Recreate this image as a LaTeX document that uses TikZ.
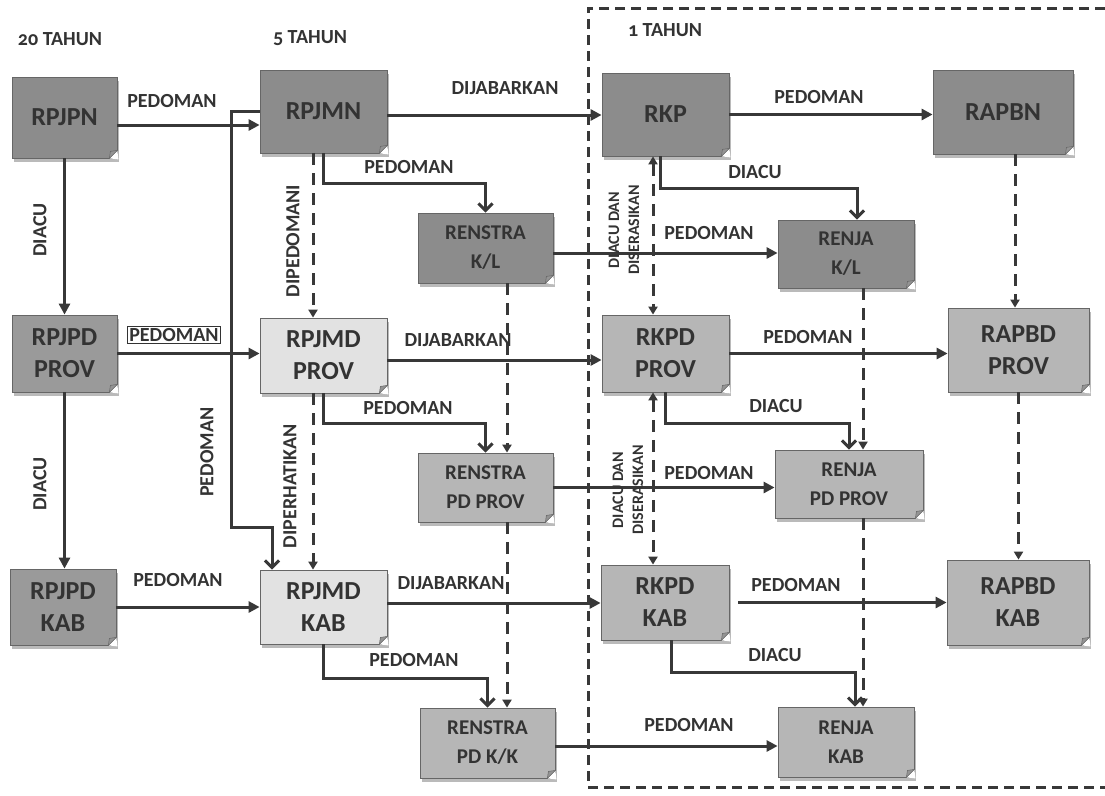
\documentclass[tikz,border=0pt]{standalone}
\usepackage{fontspec}
\setmainfont{Carlito}[Numbers=OldStyle]
\usetikzlibrary{arrows.meta,shadows}
\definecolor{tinta}{HTML}{333333}
\definecolor{garis}{HTML}{383838}
\definecolor{tepi}{HTML}{666666}
\definecolor{abugelap}{HTML}{8C8C8C}
\definecolor{abusedang}{HTML}{9A9A9A}
\definecolor{abumuda}{HTML}{B6B6B6}
\definecolor{abuterang}{HTML}{E2E2E2}

\begin{document}
\begin{tikzpicture}[x=1pt, y=-1pt,
    every node/.style={text=tinta, font=\bfseries\fontsize{20}{22}\selectfont},
    dok/.style={draw=tepi, line width=0.8pt, align=center, inner sep=2pt,
        font=\bfseries\fontsize{26}{32}\selectfont,
        drop shadow={shadow xshift=2pt, shadow yshift=-4pt, opacity=0.45, fill=black!60}},
    dokkecil/.style={dok, font=\bfseries\fontsize{21}{29}\selectfont},
    ukuran/.style 2 args={minimum width=#1pt, minimum height=#2pt},
    alir/.style={draw=garis, line width=3pt, -{Triangle[length=11pt, width=11pt]}},
    siku/.style={draw=garis, line width=3pt, -{Straight Barb[length=7pt, width=14pt]}},
    putus/.style={draw=garis, line width=3pt, dash pattern=on 12pt off 8pt,
        -{Triangle[length=8pt, width=9pt]}},
    putus2/.style={putus, {Triangle[length=8pt, width=9pt]}-{Triangle[length=8pt, width=9pt]}},
    kecil/.style={font=\bfseries\fontsize{16}{20}\selectfont}]
    \useasboundingbox (0,0) rectangle (1105,795);

    % bingkai 1 tahun
    \draw[garis, line width=3pt, dash pattern=on 10pt off 6pt] (1105,8) -- (588,8) -- (588,787) -- (1105,787);

    \node (t20) at (60,39) {20 TAHUN};
    \node (t5) at (310,38) {5 TAHUN};
    \node (t1) at (665,30) {1 TAHUN};

    % dokumen
    \node[dok, fill=abugelap, ukuran={105}{81}] (rpjpn) at (64.5,117.5) {RPJPN};
    \node[dok, fill=abusedang, ukuran={105}{77}] (rpjpdprov) at (64.5,353.5) {RPJPD\\PROV};
    \node[dok, fill=abusedang, ukuran={106}{76}] (rpjpdkab) at (63,607) {RPJPD\\KAB};
    \node[dok, fill=abugelap, ukuran={127}{83}] (rpjmn) at (323.5,111.5) {RPJMN};
    \node[dok, fill=abuterang, ukuran={127}{75}] (rpjmdprov) at (323.5,355.5) {RPJMD\\PROV};
    \node[dok, fill=abuterang, ukuran={127}{74}] (rpjmdkab) at (323.5,607) {RPJMD\\KAB};
    \node[dokkecil, fill=abugelap, ukuran={135}{70}] (renstrakl) at (485.5,248) {RENSTRA\\K/L};
    \node[dokkecil, fill=abumuda, ukuran={135}{69}] (renstraprov) at (485.5,487.5) {RENSTRA\\PD PROV};
    \node[dokkecil, fill=abumuda, ukuran={135}{70}] (renstrakab) at (487.5,743) {RENSTRA\\PD K/K};
    \node[dok, fill=abugelap, ukuran={127}{83}] (rkp) at (665.5,114.5) {RKP};
    \node[dok, fill=abumuda, ukuran={127}{77}] (rkpdprov) at (665.5,353.5) {RKPD\\PROV};
    \node[dok, fill=abumuda, ukuran={128}{75}] (rkpdkab) at (665,602.5) {RKPD\\KAB};
    \node[dokkecil, fill=abugelap, ukuran={136}{68}] (renjakl) at (846,254) {RENJA\\K/L};
    \node[dokkecil, fill=abumuda, ukuran={148}{68}] (renjaprov) at (849,484) {RENJA\\PD PROV};
    \node[dokkecil, fill=abumuda, ukuran={136}{70}] (renjakab) at (846,742) {RENJA\\KAB};
    \node[dok, fill=abugelap, ukuran={140}{84}] (rapbn) at (1003,112) {RAPBN};
    \node[dok, fill=abumuda, ukuran={141}{84}] (rapbdprov) at (1018.5,350) {RAPBD\\PROV};
    \node[dok, fill=abumuda, ukuran={142}{85}] (rapbdkab) at (1018,602.5) {RAPBD\\KAB};

    % lipatan sudut
    \foreach \n in {rpjpn,rpjpdprov,rpjpdkab,rpjmn,rpjmdprov,rpjmdkab,renstrakl,renstraprov,renstrakab,
                    rkp,rkpdprov,rkpdkab,renjakl,renjaprov,renjakab,rapbn,rapbdprov,rapbdkab}{
        \fill[white] ([xshift=-8pt]\n.south east) -- ([xshift=1pt, yshift=-1pt]\n.south east)
            -- ([yshift=8pt]\n.south east) -- cycle;
        \filldraw[fill=tepi!70, draw=tepi, line width=0.5pt] ([xshift=-8pt]\n.south east)
            -- ([yshift=8pt]\n.south east) -- ([xshift=-7pt, yshift=7pt]\n.south east) -- cycle;
    }

    % 20 tahun
    \draw[alir] ([yshift=-7.5pt]rpjpn.east) -- ([yshift=-7.5pt]rpjpn.east -| rpjmn.west);
    \draw[alir] (rpjpn.south) -- (rpjpdprov.north);
    \draw[alir] (rpjpdprov.south) -- (rpjpdprov.south |- rpjpdkab.north);
    \draw[alir] (rpjpdprov.east) -- (rpjpdprov.east -| rpjmdprov.west);
    \draw[alir] (rpjpdkab.east) -- (rpjpdkab.east -| rpjmdkab.west);
    \draw[siku] (rpjmn.west) -- ++(-28,0) -- ++(0,415.5) -| ([xshift=-51.5pt]rpjmdkab.north);

    % 5 tahun
    \draw[putus] ([xshift=-10.5pt]rpjmn.south) -- ([xshift=-10.5pt]rpjmdprov.north);
    \draw[putus] ([xshift=-10.5pt]rpjmdprov.south) -- ([xshift=-10.5pt]rpjmdkab.north);
    \draw[alir] ([yshift=-3.5pt]rpjmn.east) -- ([yshift=-3.5pt]rpjmn.east -| rkp.west);
    \draw[alir] ([yshift=-4.5pt]rpjmdprov.east) -- ([yshift=-4.5pt]rpjmdprov.east -| rkpdprov.west);
    \draw[alir] ([yshift=4pt]rpjmdkab.east) -- ([yshift=4pt]rpjmdkab.east -| rkpdkab.west);
    \draw[siku] (rpjmn.south) -- ++(0,30) -| (renstrakl.north);
    \draw[siku] (rpjmdprov.south) -- ++(0,30) -| (renstraprov.north);
    \draw[siku] (rpjmdkab.south) -- ++(0,34) -| (renstrakab.north);
    \draw[putus] ([xshift=21.5pt]renstrakl.south) -- ([xshift=21.5pt]renstrakl.south |- renstraprov.north);
    \draw[putus] ([xshift=21.5pt]renstraprov.south) -- ([xshift=21.5pt]renstraprov.south |- renstrakab.north);

    % 1 tahun
    \draw[alir] (rkp.east) -- (rkp.east -| rapbn.west);
    \draw[siku] ([xshift=-5.5pt]rkp.south) -- ++(0,32) -| ([xshift=11pt]renjakl.north);
    \draw[alir] ([yshift=-5pt]renstrakl.east) -- ([yshift=-5pt]renstrakl.east -| renjakl.west);
    \draw[putus2] ([xshift=-12.5pt]rkp.south) -- ([xshift=-12.5pt]rkp.south |- rkpdprov.north);
    \draw[putus2] ([xshift=-12.5pt]rkpdprov.south) -- ([xshift=-12.5pt]rkpdprov.south |- rkpdkab.north);
    \draw[alir] (rkpdprov.east) -- (rkpdprov.east -| rapbdprov.west);
    \draw[siku] (rkpdprov.south) -- ++(0,31) -| (renjaprov.north);
    \draw[alir] (renstraprov.east) -- (renstraprov.east -| renjaprov.west);
    \draw[putus] ([xshift=17pt]renjakl.south) -- ([xshift=17pt]renjakl.south |- renjaprov.north);
    \draw[putus] ([xshift=14pt]renjaprov.south) -- ([xshift=14pt]renjaprov.south |- renjakab.north);
    \draw[putus] ([xshift=12pt]rapbn.south) -- ([xshift=12pt]rapbn.south |- rapbdprov.north);
    \draw[putus] (rapbdprov.south) -- (rapbdprov.south |- rapbdkab.north);
    \draw[alir] ([xshift=9pt]rkpdkab.east) -- (rkpdkab.east -| rapbdkab.west);
    \draw[siku] ([xshift=6pt]rkpdkab.south) -- ++(0,32) -| ([xshift=9pt]renjakab.north);
    \draw[alir] ([yshift=-3pt]renstrakab.east) -- ([yshift=-3pt]renstrakab.east -| renjakab.west);

    % label
    \node (l1) at (172,101) {PEDOMAN};
    \node[rotate=90] (l2) at (40,230) {DIACU};
    \node[rotate=90] (l3) at (40,484) {DIACU};
    \node[draw=tinta, line width=0.8pt, inner sep=2pt] (l4) at (174,335) {PEDOMAN};
    \node (l5) at (178,580) {PEDOMAN};
    \node[rotate=90] (l6) at (207,452) {PEDOMAN};
    \node[rotate=90] (l7) at (293,241) {DIPEDOMANI};
    \node[rotate=90] (l8) at (290,486) {DIPERHATIKAN};
    \node (l9) at (505,88) {DIJABARKAN};
    \node (l10) at (409,167) {PEDOMAN};
    \node (l11) at (458,340) {DIJABARKAN};
    \node (l12) at (408,408) {PEDOMAN};
    \node (l13) at (451,583) {DIJABARKAN};
    \node (l14) at (414,660) {PEDOMAN};
    \node (l15) at (819,97) {PEDOMAN};
    \node (l16) at (755,172) {DIACU};
    \node (l17) at (709,233) {PEDOMAN};
    \node[kecil, rotate=90, align=center] (l18) at (624,230) {DIACU DAN\\DISERASIKAN};
    \node[kecil, rotate=90, align=center] (l19) at (628,490) {DIACU DAN\\DISERASIKAN};
    \node (l20) at (808,337) {PEDOMAN};
    \node (l21) at (776,406) {DIACU};
    \node (l22) at (709,473) {PEDOMAN};
    \node (l23) at (796,585) {PEDOMAN};
    \node (l24) at (775,655) {DIACU};
    \node (l25) at (689,725) {PEDOMAN};
\end{tikzpicture}
\end{document}
